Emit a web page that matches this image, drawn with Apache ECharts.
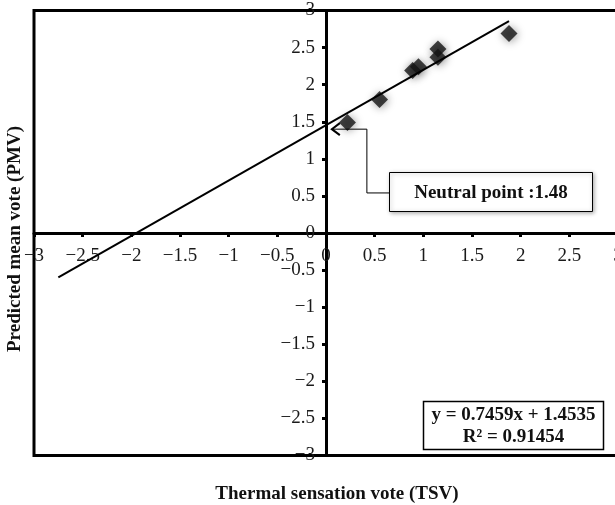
<!DOCTYPE html>
<html>
<head>
<meta charset="utf-8">
<script src="https://cdn.jsdelivr.net/npm/echarts@6/dist/echarts.min.js"></script>
<style>
  html, body { margin: 0; padding: 0; background: #fff; }
  #chart { width: 615px; height: 505px; }
</style>
</head>
<body>
<div id="chart"></div>
<script>
// Survey results: thermal sensation vote (TSV) against predicted mean vote (PMV)
const tsvValues = [0.22, 0.55, 0.89, 0.95, 1.15, 1.15, 1.88];
const pmvValues = [1.49, 1.80, 2.19, 2.24, 2.48, 2.37, 2.69];

// Linear regression reported on the chart
const fitSlope = 0.7459;
const fitIntercept = 1.4535;
const fitR2 = '0.91454';
const fitRangeX = [-2.75, 1.88];
const neutralPoint = '1.48';

// Shared axis scale
const axisMin = -3;
const axisMax = 3;
const axisStep = 0.5;

const SERIF = '"Liberation Serif", "Times New Roman", serif';
const fmt = v => String(v).replace('-', '\u2212');

const points = tsvValues.map((x, i) => [x, pmvValues[i]]);
const fitLine = fitRangeX.map(x => [x, fitSlope * x + fitIntercept]);

// Plot area in pixels; axes are drawn through the origin
const W = 615, H = 505;
const G = { left: 34, right: -3, top: 10.5, bottom: 49.5 };
const plotW = W - G.left - G.right;
const plotH = H - G.top - G.bottom;
const zeroFrac = (0 - axisMin) / (axisMax - axisMin);

const axisCommon = {
  type: 'value',
  min: axisMin,
  max: axisMax,
  interval: axisStep,
  splitLine: { show: false },
  axisLine: { onZero: false, lineStyle: { color: '#000', width: 3 } },
  axisTick: { show: true, length: 4, lineStyle: { color: '#000', width: 3 } },
  axisLabel: {
    formatter: fmt, color: '#1a1a1a', fontFamily: SERIF, fontSize: 19,
    showMinLabel: true, showMaxLabel: true, hideOverlap: false
  }
};

const option = {
  backgroundColor: '#fff',
  animation: false,
  grid: Object.assign({
    show: true, borderColor: '#000', borderWidth: 3, backgroundColor: 'transparent',
    containLabel: false, outerBoundsMode: 'none'
  }, G),
  xAxis: Object.assign({}, axisCommon, {
    position: 'bottom',
    offset: -plotH * zeroFrac,
    axisLabel: Object.assign({}, axisCommon.axisLabel, { margin: 14 })
  }),
  yAxis: Object.assign({}, axisCommon, {
    position: 'left',
    offset: -plotW * zeroFrac,
    axisLabel: Object.assign({}, axisCommon.axisLabel, { margin: 11 })
  }),
  series: [
    {
      type: 'scatter',
      data: points,
      symbol: 'diamond',
      symbolSize: 17,
      itemStyle: {
        color: '#141414',
        shadowBlur: 8,
        shadowColor: 'rgba(0,0,0,0.5)',
        shadowOffsetX: 1,
        shadowOffsetY: 1
      },
      z: 3
    },
    {
      type: 'line',
      data: fitLine,
      symbol: 'none',
      lineStyle: { color: '#000', width: 2 },
      z: 4
    }
  ]
};

const chart = echarts.init(document.getElementById('chart'), null, { renderer: 'canvas' });
chart.setOption(option);

// Callout and equation boxes, placed in data coordinates
const px = p => chart.convertToPixel({ gridIndex: 0 }, p);
const calloutPath = [[0.06, 1.40], [0.42, 1.40], [0.42, 0.54], [0.65, 0.54]];
const noteBox = [[0.65, 0.82], [2.74, 0.30]];
const eqBox = [[1.0, -2.26], [2.85, -2.91]];

function boxRect(corners) {
  const a = px(corners[0]), b = px(corners[1]);
  return { x: Math.round(a[0]) + 0.5, y: Math.round(a[1]) + 0.5,
           width: Math.round(b[0] - a[0]), height: Math.round(b[1] - a[1]) };
}

const pathPx = calloutPath.map(px);
const tip = pathPx[0];
const nb = boxRect(noteBox);
const eb = boxRect(eqBox);
const boldText = { fontFamily: SERIF, fontWeight: 'bold', fontSize: 19, fill: '#111' };

chart.setOption({
  graphic: [
    { type: 'polyline', shape: { points: pathPx }, style: { stroke: '#000', lineWidth: 1, fill: null }, z: 10 },
    { type: 'polyline',
      shape: { points: [[tip[0] + 8, tip[1] - 6], tip, [tip[0] + 8, tip[1] + 6]] },
      style: { stroke: '#000', lineWidth: 2, fill: null }, z: 10 },
    { type: 'rect', shape: nb,
      style: { fill: '#fff', stroke: '#000', lineWidth: 1, shadowBlur: 4, shadowColor: 'rgba(0,0,0,0.3)', shadowOffsetX: 1, shadowOffsetY: 1 }, z: 10 },
    { type: 'text', x: nb.x + nb.width / 2, y: nb.y + nb.height / 2 + 1,
      style: Object.assign({ text: 'Neutral point :' + neutralPoint, align: 'center', verticalAlign: 'middle' }, boldText), z: 11 },
    { type: 'rect', shape: eb,
      style: { fill: '#fff', stroke: '#000', lineWidth: 1.5 }, z: 10 },
    { type: 'text', x: eb.x + eb.width / 2, y: eb.y + eb.height * 0.28,
      style: Object.assign({ text: 'y = ' + fitSlope + 'x + ' + fitIntercept, align: 'center', verticalAlign: 'middle' }, boldText), z: 11 },
    { type: 'text', x: eb.x + eb.width / 2, y: eb.y + eb.height * 0.74,
      style: Object.assign({ text: 'R\u00b2 = ' + fitR2, align: 'center', verticalAlign: 'middle' }, boldText), z: 11 },
    { type: 'text', x: 15, y: 239, rotation: Math.PI / 2,
      style: Object.assign({ text: 'Predicted mean vote (PMV)', align: 'center', verticalAlign: 'middle' }, boldText), z: 11 },
    { type: 'text', x: 337, y: 494,
      style: Object.assign({ text: 'Thermal sensation vote (TSV)', align: 'center', verticalAlign: 'middle' }, boldText), z: 11 }
  ]
});
</script>
</body>
</html>
